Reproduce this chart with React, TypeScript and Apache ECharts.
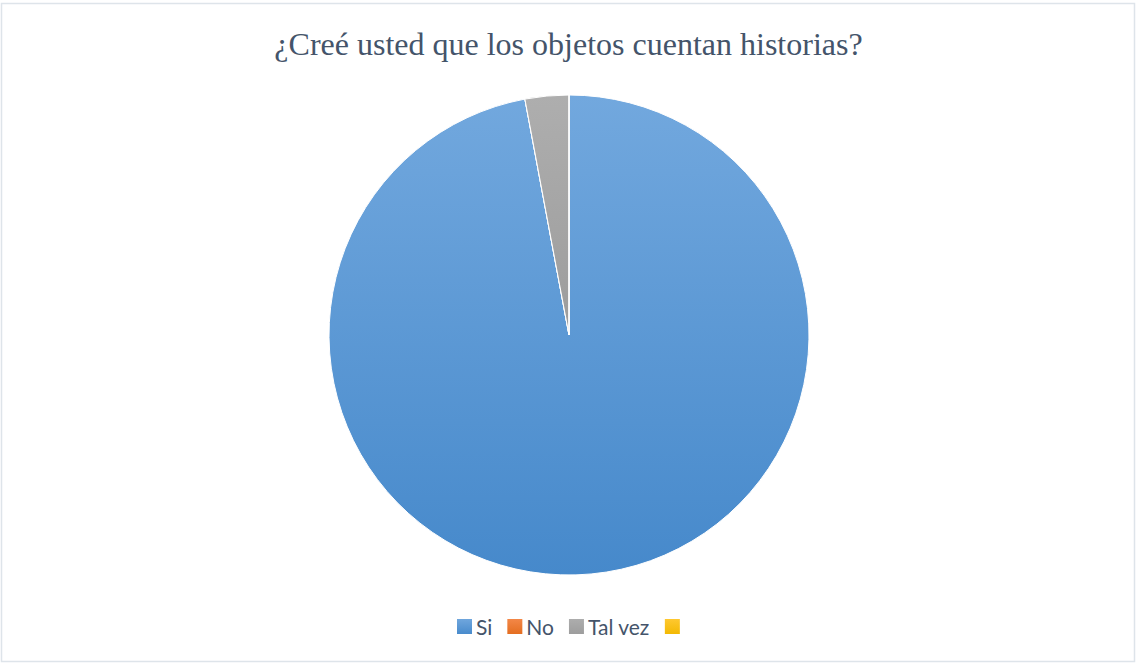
import React, { useEffect, useRef } from "react";
import * as echarts from "echarts";

const categories = ["Si", "No", "Tal vez", " "];
const values = [33, 0, 1, 0];
const titleText = "¿Creé usted que los objetos cuentan historias?";

const colors = [
  new echarts.graphic.LinearGradient(0, 0, 0, 1, [
    { offset: 0, color: "#72A8DE" },
    { offset: 1, color: "#4689CB" },
  ]),
  new echarts.graphic.LinearGradient(0, 0, 0, 1, [
    { offset: 0, color: "#F4894A" },
    { offset: 1, color: "#E36C1E" },
  ]),
  new echarts.graphic.LinearGradient(0, 0, 0, 1, [
    { offset: 0, color: "#AEAEAE" },
    { offset: 1, color: "#9C9C9C" },
  ]),
  new echarts.graphic.LinearGradient(0, 0, 0, 1, [
    { offset: 0, color: "#FFC933" },
    { offset: 1, color: "#F2B800" },
  ]),
];

export default function App() {
  const ref = useRef<HTMLDivElement>(null);
  useEffect(() => {
    if (!ref.current) return;
    const chart = echarts.init(ref.current, undefined, { renderer: "svg" });
    chart.setOption({
      animation: false,
      backgroundColor: "#ffffff",
      title: {
        text: titleText,
        left: "center",
        top: 28,
        padding: 0,
        textStyle: {
          fontFamily: "Liberation Serif, Times New Roman, serif",
          fontSize: 32,
          fontWeight: "normal",
          color: "#44546A",
        },
      },
      legend: {
        data: categories,
        top: 616,
        left: 455,
        padding: 0,
        itemWidth: 17,
        itemHeight: 17,
        itemGap: 13,
        icon: "rect",
        textStyle: {
          fontFamily: "Lato, Liberation Sans, sans-serif",
          fontSize: 21,
          color: "#44546A",
          padding: [0, 0, 0, -2],
        },
      },
      graphic: [
        {
          type: "rect",
          shape: { x: 1.5, y: 3.5, width: 1133, height: 658 },
          style: { fill: "none", stroke: "#DEE4EA", lineWidth: 1.5 },
          silent: true,
          z: -1,
        },
      ],
      series: [
        {
          type: "pie",
          center: [569, 335],
          radius: [0, 240],
          startAngle: 90,
          clockwise: true,
          label: { show: false },
          labelLine: { show: false },
          itemStyle: { borderColor: "#ffffff", borderWidth: 1 },
          data: categories.map((name, i) => ({
            name,
            value: values[i],
            itemStyle: { color: colors[i] },
          })),
        },
      ],
    });
    return () => chart.dispose();
  }, []);
  return (
    <div
      ref={ref}
      style={{ position: "fixed", left: 0, top: 0, width: 1137, height: 665 }}
    />
  );
}
